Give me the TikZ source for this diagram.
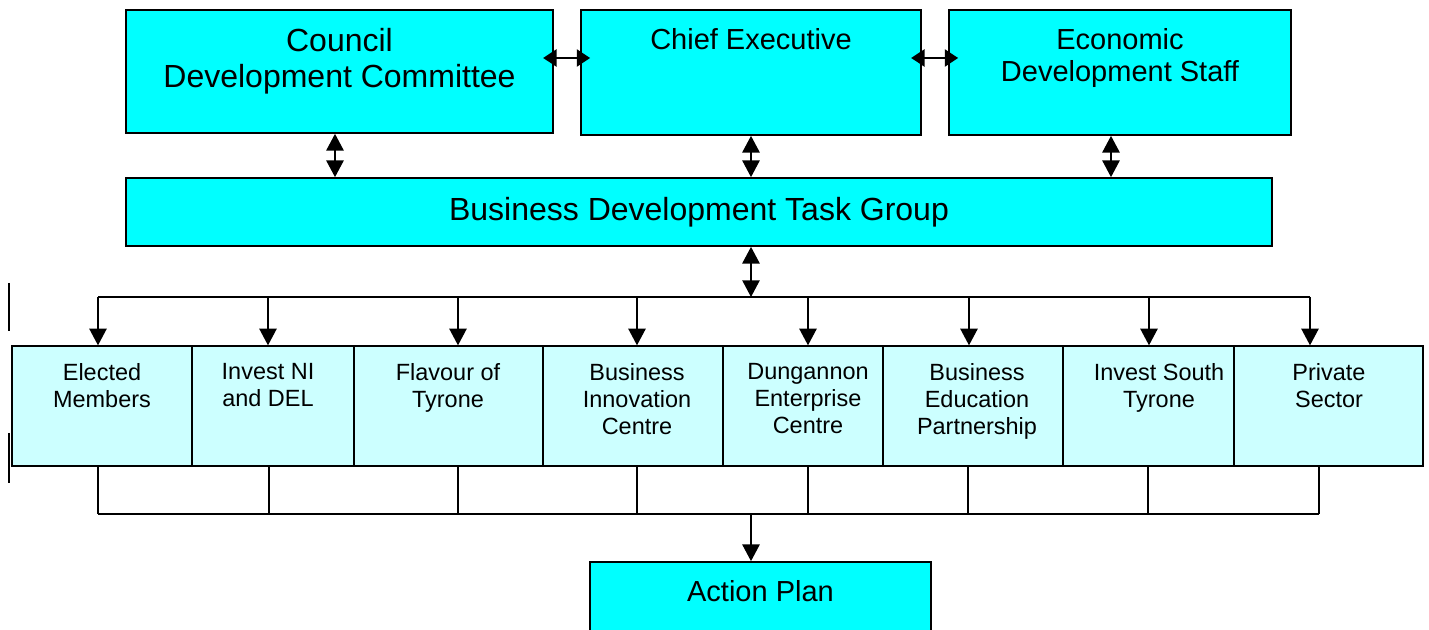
\documentclass[tikz,border=0pt]{standalone}
\usepackage{fontspec}
\setmainfont{Liberation Sans}
\usetikzlibrary{arrows.meta,fit}

\definecolor{topcyan}{RGB}{0,255,255}
\definecolor{palecyan}{RGB}{204,255,255}

\tikzset{
  topbox/.style={draw, line width=1.3pt, fill=topcyan, inner sep=0pt},
  memberbox/.style={draw, line width=1pt, fill=palecyan, inner sep=0pt},
  bigtext/.style={font=\fontsize{24}{27}\selectfont, align=center, inner sep=0pt, anchor=north},
  midtext/.style={font=\fontsize{21.75}{24}\selectfont, align=center, inner sep=0pt, anchor=north},
  smalltext/.style={font=\fontsize{17.6}{20.3}\selectfont, align=center, inner sep=0pt, anchor=north},
  link/.style={line width=1.1pt},
  twoway/.style={link, {Triangle[length=12.5pt,width=13pt]}-{Triangle[length=12.5pt,width=13pt]}},
  % heads reach a little into the boxes on both sides
  sideway/.style={link, {Triangle[length=10pt,width=13pt]}-{Triangle[length=10pt,width=13pt]},
    shorten <=-8pt, shorten >=-7.5pt},
  oneway/.style={link, -{Triangle[length=12.5pt,width=13pt]}},
}

\begin{document}
\begin{tikzpicture}[x=0.75pt,y=0.75pt,yscale=-1,xscale=1]
\useasboundingbox (0,0) rectangle (1429,630);
\clip (0,0) rectangle (1429,630);

%Shape: Rectangle
\node [topbox, fit={(126,10) (553,133)}] (council) {};
%Shape: Rectangle
\node [topbox, fit={(581,10) (921,135)}] (chief) {};
%Shape: Rectangle
\node [topbox, fit={(949,10) (1291,135)}] (staff) {};
%Shape: Rectangle
\node [topbox, fit={(126,178) (1272,246)}] (taskgroup) {};
%Shape: Rectangle
\node [topbox, fit={(590,562) (931,660)}] (action) {};

%Shape: Rectangle (partner row)
\node [memberbox, fit={(12,346) (192,466)}] (m1) {};
\node [memberbox, fit={(192,346) (354,466)}] (m2) {};
\node [memberbox, fit={(354,346) (543,466)}] (m3) {};
\node [memberbox, fit={(543,346) (723,466)}] (m4) {};
\node [memberbox, fit={(723,346) (883,466)}] (m5) {};
\node [memberbox, fit={(883,346) (1063,466)}] (m6) {};
\node [memberbox, fit={(1063,346) (1234,466)}] (m7) {};
\node [memberbox, fit={(1234,346) (1423,466)}] (m8) {};

% Text Node
\node [bigtext] (council-txt) at (339.5,28) {Council\\Development Committee};
% Text Node
\node [midtext] (chief-txt) at (751,28) {Chief Executive};
% Text Node
\node [midtext] (staff-txt) at (1120,28) {Economic\\Development Staff};
% Text Node
\node [bigtext] (taskgroup-txt) at (699,197) {Business Development Task Group};
% Text Node
\node [midtext] (action-txt) at (760.5,580) {Action Plan};

% Text Node
\node [smalltext] (m1-txt) at (102,363) {Elected\\Members};
\node [smalltext] (m2-txt) at (268,363) {Invest NI\\and DEL};
\node [smalltext] (m3-txt) at (448,363) {Flavour of\\Tyrone};
\node [smalltext] (m4-txt) at (637,363) {Business\\Innovation\\Centre};
\node [smalltext] (m5-txt) at (808,363) {Dungannon\\Enterprise\\Centre};
\node [smalltext] (m6-txt) at (977,363) {Business\\Education\\Partnership};
\node [smalltext] (m7-txt) at (1159,363) {Invest South\\Tyrone};
\node [smalltext] (m8-txt) at (1329,363) {Private\\Sector};

%Straight Lines
\coordinate (hrow) at (0,58);
\draw [sideway] (council.east |- hrow) -- (chief.west |- hrow);
\draw [sideway] (chief.east |- hrow) -- (staff.west |- hrow);

%Straight Lines
\draw [twoway] (council.south -| 335,0) -- (taskgroup.north -| 335,0);
\draw [twoway] (chief.south) -- (taskgroup.north -| chief.south);
\draw [twoway] (staff.south -| 1111,0) -- (taskgroup.north -| 1111,0);

%Straight Lines
\coordinate (busL) at (98,297);
\coordinate (busR) at (1310,297);
\draw [twoway] (taskgroup.south -| chief.south) -- (busL -| chief.south);
\draw [link] (busL) -- (busR);
\foreach \n/\x in {m1/98,m2/268,m3/458,m4/637,m5/808,m6/969,m7/1149,m8/1310}
  \draw [oneway] (busL -| \x,0) -- (\n.north -| \x,0);

%Straight Lines
\coordinate (joinL) at (98,514);
\coordinate (joinR) at (1319,514);
\foreach \n/\x in {m1/98,m2/269,m3/458,m4/637,m5/808,m6/968,m7/1148,m8/1319}
  \draw [link] (\n.south -| \x,0) -- (joinL -| \x,0);
\draw [link] (joinL) -- (joinR);
\draw [oneway] (joinL -| 751,0) -- (action.north -| 751,0);

%Straight Lines
\draw [link] (9,283) -- (9,331);
\draw [link] (9,433) -- (9,483);

\end{tikzpicture}
\end{document}
